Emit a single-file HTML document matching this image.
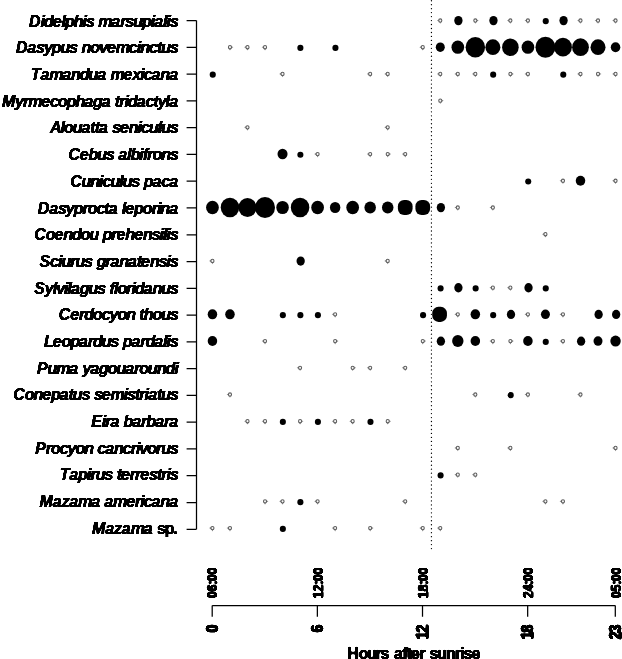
<!DOCTYPE html>
<html lang="en"><head><meta charset="utf-8"><title>Activity by hours after sunrise</title>
<style>
html,body{margin:0;padding:0;background:#fff;}
body{width:622px;height:659px;overflow:hidden;}
svg{display:block;}
text{font-family:"Liberation Sans",sans-serif;font-weight:bold;fill:#000;stroke:#000;stroke-width:0.35px;}
.sp{font-style:italic;font-size:16.20px;stroke-width:0.15px;}
.sp tspan{font-style:normal;}
.tk{font-size:16.40px;stroke-width:0.85px;}
.hr{font-size:14.80px;stroke-width:0.7px;}
.ttl{font-size:16.00px;}
.ax{stroke:#000;stroke-width:1.25;fill:none;}
.dot{stroke:#000;stroke-width:1.35;stroke-dasharray:0.01 3.96;stroke-linecap:round;fill:none;}
.f{fill:#000;}
.s{fill:#f6f6f6;stroke:#5c5c5c;stroke-width:1.05;}
.t{fill:#888;}
</style></head><body>
<svg width="622" height="659" viewBox="0 0 622 659">
<rect width="622" height="659" fill="#fff"/>
<defs>
<filter id="hh" x="0" y="0" width="622" height="659" filterUnits="userSpaceOnUse" color-interpolation-filters="sRGB"><feConvolveMatrix order="3 1" kernelMatrix="0.30 1 0.30" divisor="1" edgeMode="none" preserveAlpha="false"/><feComponentTransfer><feFuncA type="linear" slope="3.00" intercept="-1.00"/></feComponentTransfer></filter>
<filter id="hv" x="0" y="0" width="622" height="659" filterUnits="userSpaceOnUse" color-interpolation-filters="sRGB"><feConvolveMatrix order="1 3" kernelMatrix="0.30 1 0.30" divisor="1" edgeMode="none" preserveAlpha="false"/><feComponentTransfer><feFuncA type="linear" slope="3.00" intercept="-1.00"/></feComponentTransfer></filter>
</defs>
<line class="dot" x1="431.45" y1="0.7" x2="431.45" y2="549.5"/>
<path class="ax" d="M196.50 20.55V529.29"/>
<path class="ax" d="M186.60 20.55H196.50M186.60 47.33H196.50M186.60 74.10H196.50M186.60 100.88H196.50M186.60 127.65H196.50M186.60 154.43H196.50M186.60 181.21H196.50M186.60 207.98H196.50M186.60 234.76H196.50M186.60 261.53H196.50M186.60 288.31H196.50M186.60 315.09H196.50M186.60 341.86H196.50M186.60 368.64H196.50M186.60 395.41H196.50M186.60 422.19H196.50M186.60 448.97H196.50M186.60 475.74H196.50M186.60 502.52H196.50M186.60 529.29H196.50"/>
<path class="ax" d="M212.20 605.50H615.30"/>
<path class="ax" d="M212.20 605.50V616.70M317.36 605.50V616.70M422.51 605.50V616.70M527.67 605.50V616.70M615.30 605.50V616.70"/>
<path class="t" d="M436.89 20.50l2.00 -1.1v2.2zM440.29 23.80l-0.9 -1.6h1.8z"/>
<ellipse class="s" cx="440.29" cy="20.50" rx="1.55" ry="1.65"/>
<ellipse class="f" cx="458.41" cy="20.60" rx="4.15" ry="4.65"/>
<path class="t" d="M478.74 20.50l-2.00 -1.1v2.2zM475.34 23.80l-0.9 -1.6h1.8z"/>
<ellipse class="s" cx="475.34" cy="20.50" rx="1.55" ry="1.65"/>
<ellipse class="f" cx="493.47" cy="20.60" rx="4.15" ry="4.65"/>
<path class="t" d="M506.99 20.50l2.00 -1.1v2.2zM510.39 23.80l-0.9 -1.6h1.8z"/>
<ellipse class="s" cx="510.39" cy="20.50" rx="1.55" ry="1.65"/>
<path class="t" d="M524.52 20.50l2.00 -1.1v2.2zM527.92 23.80l-0.9 -1.6h1.8z"/>
<ellipse class="s" cx="527.92" cy="20.50" rx="1.55" ry="1.65"/>
<rect class="f" x="542.69" y="18.10" width="6.10" height="6.20" rx="3.0"/>
<ellipse class="f" cx="563.57" cy="20.60" rx="4.15" ry="4.65"/>
<path class="t" d="M577.10 20.50l2.00 -1.1v2.2zM580.50 23.80l-0.9 -1.6h1.8z"/>
<ellipse class="s" cx="580.50" cy="20.50" rx="1.55" ry="1.65"/>
<path class="t" d="M594.62 20.50l2.00 -1.1v2.2zM598.02 23.80l-0.9 -1.6h1.8z"/>
<ellipse class="s" cx="598.02" cy="20.50" rx="1.55" ry="1.65"/>
<path class="t" d="M612.15 20.50l2.00 -1.1v2.2zM615.55 23.80l-0.9 -1.6h1.8z"/>
<ellipse class="s" cx="615.55" cy="20.50" rx="1.55" ry="1.65"/>
<path class="t" d="M233.38 47.22l-2.00 -1.1v2.2zM229.98 50.52l-0.9 -1.6h1.8z"/>
<ellipse class="s" cx="229.98" cy="47.22" rx="1.55" ry="1.65"/>
<path class="t" d="M244.10 47.22l2.00 -1.1v2.2zM247.50 50.52l-0.9 -1.6h1.8z"/>
<ellipse class="s" cx="247.50" cy="47.22" rx="1.55" ry="1.65"/>
<path class="t" d="M261.63 47.22l2.00 -1.1v2.2zM265.03 50.52l-0.9 -1.6h1.8z"/>
<ellipse class="s" cx="265.03" cy="47.22" rx="1.55" ry="1.65"/>
<rect class="f" x="297.33" y="44.82" width="6.10" height="6.20" rx="3.0"/>
<rect class="f" x="332.38" y="44.82" width="6.10" height="6.20" rx="3.0"/>
<path class="t" d="M419.36 47.22l2.00 -1.1v2.2zM422.76 50.52l-0.9 -1.6h1.8z"/>
<ellipse class="s" cx="422.76" cy="47.22" rx="1.55" ry="1.65"/>
<ellipse class="f" cx="440.29" cy="47.22" rx="4.51" ry="4.75"/>
<ellipse class="f" cx="457.81" cy="47.22" rx="6.32" ry="6.65"/>
<ellipse class="f" cx="475.34" cy="47.22" rx="9.74" ry="10.25"/>
<ellipse class="f" cx="492.87" cy="47.22" rx="7.50" ry="7.90"/>
<ellipse class="f" cx="510.39" cy="47.22" rx="8.31" ry="8.75"/>
<ellipse class="f" cx="527.92" cy="47.22" rx="6.32" ry="6.65"/>
<ellipse class="f" cx="545.44" cy="47.22" rx="9.97" ry="10.50"/>
<ellipse class="f" cx="562.97" cy="47.22" rx="8.93" ry="9.40"/>
<ellipse class="f" cx="580.50" cy="47.22" rx="8.41" ry="8.85"/>
<ellipse class="f" cx="598.02" cy="47.22" rx="7.50" ry="7.90"/>
<ellipse class="f" cx="615.55" cy="47.22" rx="4.75" ry="5.00"/>
<rect class="f" x="209.70" y="71.53" width="6.10" height="6.20" rx="3.0"/>
<path class="t" d="M279.15 73.93l2.00 -1.1v2.2zM282.55 77.23l-0.9 -1.6h1.8z"/>
<ellipse class="s" cx="282.55" cy="73.93" rx="1.55" ry="1.65"/>
<path class="t" d="M366.78 73.93l2.00 -1.1v2.2zM370.18 77.23l-0.9 -1.6h1.8z"/>
<ellipse class="s" cx="370.18" cy="73.93" rx="1.55" ry="1.65"/>
<path class="t" d="M384.31 73.93l2.00 -1.1v2.2zM387.71 77.23l-0.9 -1.6h1.8z"/>
<ellipse class="s" cx="387.71" cy="73.93" rx="1.55" ry="1.65"/>
<path class="t" d="M436.89 73.93l2.00 -1.1v2.2zM440.29 77.23l-0.9 -1.6h1.8z"/>
<ellipse class="s" cx="440.29" cy="73.93" rx="1.55" ry="1.65"/>
<path class="t" d="M454.41 73.93l2.00 -1.1v2.2zM457.81 77.23l-0.9 -1.6h1.8z"/>
<ellipse class="s" cx="457.81" cy="73.93" rx="1.55" ry="1.65"/>
<path class="t" d="M471.94 73.93l2.00 -1.1v2.2zM475.34 77.23l-0.9 -1.6h1.8z"/>
<ellipse class="s" cx="475.34" cy="73.93" rx="1.55" ry="1.65"/>
<rect class="f" x="490.12" y="71.53" width="6.10" height="6.20" rx="3.0"/>
<path class="t" d="M513.79 73.93l-2.00 -1.1v2.2zM510.39 77.23l-0.9 -1.6h1.8z"/>
<ellipse class="s" cx="510.39" cy="73.93" rx="1.55" ry="1.65"/>
<path class="t" d="M524.52 73.93l2.00 -1.1v2.2zM527.92 77.23l-0.9 -1.6h1.8z"/>
<ellipse class="s" cx="527.92" cy="73.93" rx="1.55" ry="1.65"/>
<rect class="f" x="560.22" y="71.53" width="6.10" height="6.20" rx="3.0"/>
<path class="t" d="M577.10 73.93l2.00 -1.1v2.2zM580.50 77.23l-0.9 -1.6h1.8z"/>
<ellipse class="s" cx="580.50" cy="73.93" rx="1.55" ry="1.65"/>
<path class="t" d="M601.42 73.93l-2.00 -1.1v2.2zM598.02 77.23l-0.9 -1.6h1.8z"/>
<ellipse class="s" cx="598.02" cy="73.93" rx="1.55" ry="1.65"/>
<path class="t" d="M612.15 73.93l2.00 -1.1v2.2zM615.55 77.23l-0.9 -1.6h1.8z"/>
<ellipse class="s" cx="615.55" cy="73.93" rx="1.55" ry="1.65"/>
<path class="t" d="M443.69 100.64l-2.00 -1.1v2.2zM440.29 103.94l-0.9 -1.6h1.8z"/>
<ellipse class="s" cx="440.29" cy="100.64" rx="1.55" ry="1.65"/>
<path class="t" d="M244.10 127.36l2.00 -1.1v2.2zM247.50 130.66l-0.9 -1.6h1.8z"/>
<ellipse class="s" cx="247.50" cy="127.36" rx="1.55" ry="1.65"/>
<path class="t" d="M384.31 127.36l2.00 -1.1v2.2zM387.71 130.66l-0.9 -1.6h1.8z"/>
<ellipse class="s" cx="387.71" cy="127.36" rx="1.55" ry="1.65"/>
<ellipse class="f" cx="282.55" cy="154.07" rx="5.03" ry="5.30"/>
<rect class="f" x="297.33" y="151.67" width="6.10" height="6.20" rx="3.0"/>
<path class="t" d="M314.21 154.07l2.00 -1.1v2.2zM317.61 157.38l-0.9 -1.6h1.8z"/>
<ellipse class="s" cx="317.61" cy="154.07" rx="1.55" ry="1.65"/>
<path class="t" d="M366.78 154.07l2.00 -1.1v2.2zM370.18 157.38l-0.9 -1.6h1.8z"/>
<ellipse class="s" cx="370.18" cy="154.07" rx="1.55" ry="1.65"/>
<path class="t" d="M391.11 154.07l-2.00 -1.1v2.2zM387.71 157.38l-0.9 -1.6h1.8z"/>
<ellipse class="s" cx="387.71" cy="154.07" rx="1.55" ry="1.65"/>
<path class="t" d="M401.84 154.07l2.00 -1.1v2.2zM405.24 157.38l-0.9 -1.6h1.8z"/>
<ellipse class="s" cx="405.24" cy="154.07" rx="1.55" ry="1.65"/>
<rect class="f" x="525.17" y="178.39" width="6.10" height="6.20" rx="3.0"/>
<path class="t" d="M559.57 180.79l2.00 -1.1v2.2zM562.97 184.09l-0.9 -1.6h1.8z"/>
<ellipse class="s" cx="562.97" cy="180.79" rx="1.55" ry="1.65"/>
<ellipse class="f" cx="580.50" cy="180.79" rx="4.75" ry="5.00"/>
<path class="t" d="M612.15 180.79l2.00 -1.1v2.2zM615.55 184.09l-0.9 -1.6h1.8z"/>
<ellipse class="s" cx="615.55" cy="180.79" rx="1.55" ry="1.65"/>
<ellipse class="f" cx="212.45" cy="207.50" rx="6.37" ry="6.70"/>
<ellipse class="f" cx="229.98" cy="207.50" rx="9.26" ry="9.75"/>
<ellipse class="f" cx="247.50" cy="207.50" rx="9.03" ry="9.50"/>
<ellipse class="f" cx="265.03" cy="207.50" rx="9.97" ry="10.50"/>
<ellipse class="f" cx="282.55" cy="207.50" rx="6.27" ry="6.60"/>
<ellipse class="f" cx="300.08" cy="207.50" rx="9.26" ry="9.75"/>
<ellipse class="f" cx="317.61" cy="207.50" rx="6.37" ry="6.70"/>
<ellipse class="f" cx="335.13" cy="207.50" rx="5.22" ry="5.50"/>
<ellipse class="f" cx="352.66" cy="207.50" rx="6.37" ry="6.70"/>
<ellipse class="f" cx="370.18" cy="207.50" rx="5.75" ry="6.05"/>
<ellipse class="f" cx="387.71" cy="207.50" rx="5.75" ry="6.05"/>
<rect class="f" x="397.89" y="199.95" width="14.70" height="15.10" rx="6.2"/>
<rect class="f" x="415.41" y="199.95" width="14.70" height="15.10" rx="6.2"/>
<ellipse class="f" cx="440.89" cy="207.60" rx="4.15" ry="4.65"/>
<path class="t" d="M454.41 207.50l2.00 -1.1v2.2zM457.81 210.81l-0.9 -1.6h1.8z"/>
<ellipse class="s" cx="457.81" cy="207.50" rx="1.55" ry="1.65"/>
<path class="t" d="M489.47 207.50l2.00 -1.1v2.2zM492.87 210.81l-0.9 -1.6h1.8z"/>
<ellipse class="s" cx="492.87" cy="207.50" rx="1.55" ry="1.65"/>
<path class="t" d="M542.04 234.22l2.00 -1.1v2.2zM545.44 237.52l-0.9 -1.6h1.8z"/>
<ellipse class="s" cx="545.44" cy="234.22" rx="1.55" ry="1.65"/>
<path class="t" d="M209.05 260.94l2.00 -1.1v2.2zM212.45 264.24l-0.9 -1.6h1.8z"/>
<ellipse class="s" cx="212.45" cy="260.94" rx="1.55" ry="1.65"/>
<ellipse class="f" cx="300.68" cy="261.04" rx="4.15" ry="4.65"/>
<path class="t" d="M384.31 260.94l2.00 -1.1v2.2zM387.71 264.24l-0.9 -1.6h1.8z"/>
<ellipse class="s" cx="387.71" cy="260.94" rx="1.55" ry="1.65"/>
<rect class="f" x="437.54" y="285.25" width="6.10" height="6.20" rx="3.0"/>
<ellipse class="f" cx="458.41" cy="287.75" rx="4.15" ry="4.65"/>
<rect class="f" x="472.59" y="285.25" width="6.10" height="6.20" rx="3.0"/>
<path class="t" d="M489.47 287.65l2.00 -1.1v2.2zM492.87 290.95l-0.9 -1.6h1.8z"/>
<ellipse class="s" cx="492.87" cy="287.65" rx="1.55" ry="1.65"/>
<path class="t" d="M506.99 287.65l2.00 -1.1v2.2zM510.39 290.95l-0.9 -1.6h1.8z"/>
<ellipse class="s" cx="510.39" cy="287.65" rx="1.55" ry="1.65"/>
<ellipse class="f" cx="528.52" cy="287.75" rx="4.15" ry="4.65"/>
<rect class="f" x="542.69" y="285.25" width="6.10" height="6.20" rx="3.0"/>
<ellipse class="f" cx="212.45" cy="314.37" rx="4.75" ry="5.00"/>
<ellipse class="f" cx="229.98" cy="314.37" rx="4.75" ry="5.00"/>
<rect class="f" x="279.80" y="311.96" width="6.10" height="6.20" rx="3.0"/>
<rect class="f" x="297.33" y="311.96" width="6.10" height="6.20" rx="3.0"/>
<rect class="f" x="314.86" y="311.96" width="6.10" height="6.20" rx="3.0"/>
<path class="t" d="M331.73 314.37l2.00 -1.1v2.2zM335.13 317.67l-0.9 -1.6h1.8z"/>
<ellipse class="s" cx="335.13" cy="314.37" rx="1.55" ry="1.65"/>
<rect class="f" x="420.01" y="311.96" width="6.10" height="6.20" rx="3.0"/>
<rect class="f" x="432.24" y="306.81" width="14.70" height="15.10" rx="6.2"/>
<path class="t" d="M454.41 314.37l2.00 -1.1v2.2zM457.81 317.67l-0.9 -1.6h1.8z"/>
<ellipse class="s" cx="457.81" cy="314.37" rx="1.55" ry="1.65"/>
<ellipse class="f" cx="475.34" cy="314.37" rx="4.75" ry="5.00"/>
<rect class="f" x="490.12" y="311.96" width="6.10" height="6.20" rx="3.0"/>
<ellipse class="f" cx="510.99" cy="314.47" rx="4.15" ry="4.65"/>
<path class="t" d="M524.52 314.37l2.00 -1.1v2.2zM527.92 317.67l-0.9 -1.6h1.8z"/>
<ellipse class="s" cx="527.92" cy="314.37" rx="1.55" ry="1.65"/>
<ellipse class="f" cx="545.44" cy="314.37" rx="4.51" ry="4.75"/>
<path class="t" d="M559.57 314.37l2.00 -1.1v2.2zM562.97 317.67l-0.9 -1.6h1.8z"/>
<ellipse class="s" cx="562.97" cy="314.37" rx="1.55" ry="1.65"/>
<ellipse class="f" cx="598.62" cy="314.47" rx="4.15" ry="4.65"/>
<ellipse class="f" cx="616.15" cy="314.47" rx="4.15" ry="4.65"/>
<ellipse class="f" cx="212.45" cy="341.08" rx="4.75" ry="5.00"/>
<path class="t" d="M261.63 341.08l2.00 -1.1v2.2zM265.03 344.38l-0.9 -1.6h1.8z"/>
<ellipse class="s" cx="265.03" cy="341.08" rx="1.55" ry="1.65"/>
<path class="t" d="M338.53 341.08l-2.00 -1.1v2.2zM335.13 344.38l-0.9 -1.6h1.8z"/>
<ellipse class="s" cx="335.13" cy="341.08" rx="1.55" ry="1.65"/>
<path class="t" d="M426.16 341.08l-2.00 -1.1v2.2zM422.76 344.38l-0.9 -1.6h1.8z"/>
<ellipse class="s" cx="422.76" cy="341.08" rx="1.55" ry="1.65"/>
<ellipse class="f" cx="440.89" cy="341.18" rx="4.15" ry="4.65"/>
<ellipse class="f" cx="457.81" cy="341.08" rx="5.70" ry="6.00"/>
<ellipse class="f" cx="475.34" cy="341.08" rx="4.75" ry="5.00"/>
<path class="t" d="M489.47 341.08l2.00 -1.1v2.2zM492.87 344.38l-0.9 -1.6h1.8z"/>
<ellipse class="s" cx="492.87" cy="341.08" rx="1.55" ry="1.65"/>
<path class="t" d="M513.79 341.08l-2.00 -1.1v2.2zM510.39 344.38l-0.9 -1.6h1.8z"/>
<ellipse class="s" cx="510.39" cy="341.08" rx="1.55" ry="1.65"/>
<ellipse class="f" cx="527.92" cy="341.08" rx="4.75" ry="5.00"/>
<rect class="f" x="542.69" y="338.68" width="6.10" height="6.20" rx="3.0"/>
<path class="t" d="M559.57 341.08l2.00 -1.1v2.2zM562.97 344.38l-0.9 -1.6h1.8z"/>
<ellipse class="s" cx="562.97" cy="341.08" rx="1.55" ry="1.65"/>
<ellipse class="f" cx="581.10" cy="341.18" rx="4.15" ry="4.65"/>
<ellipse class="f" cx="598.02" cy="341.08" rx="4.51" ry="4.75"/>
<ellipse class="f" cx="615.55" cy="341.08" rx="5.22" ry="5.50"/>
<path class="t" d="M296.68 367.80l2.00 -1.1v2.2zM300.08 371.10l-0.9 -1.6h1.8z"/>
<ellipse class="s" cx="300.08" cy="367.80" rx="1.55" ry="1.65"/>
<path class="t" d="M356.06 367.80l-2.00 -1.1v2.2zM352.66 371.10l-0.9 -1.6h1.8z"/>
<ellipse class="s" cx="352.66" cy="367.80" rx="1.55" ry="1.65"/>
<path class="t" d="M366.78 367.80l2.00 -1.1v2.2zM370.18 371.10l-0.9 -1.6h1.8z"/>
<ellipse class="s" cx="370.18" cy="367.80" rx="1.55" ry="1.65"/>
<path class="t" d="M401.84 367.80l2.00 -1.1v2.2zM405.24 371.10l-0.9 -1.6h1.8z"/>
<ellipse class="s" cx="405.24" cy="367.80" rx="1.55" ry="1.65"/>
<path class="t" d="M226.58 394.51l2.00 -1.1v2.2zM229.98 397.81l-0.9 -1.6h1.8z"/>
<ellipse class="s" cx="229.98" cy="394.51" rx="1.55" ry="1.65"/>
<path class="t" d="M471.94 394.51l2.00 -1.1v2.2zM475.34 397.81l-0.9 -1.6h1.8z"/>
<ellipse class="s" cx="475.34" cy="394.51" rx="1.55" ry="1.65"/>
<rect class="f" x="507.64" y="392.11" width="6.10" height="6.20" rx="3.0"/>
<path class="t" d="M524.52 394.51l2.00 -1.1v2.2zM527.92 397.81l-0.9 -1.6h1.8z"/>
<ellipse class="s" cx="527.92" cy="394.51" rx="1.55" ry="1.65"/>
<path class="t" d="M577.10 394.51l2.00 -1.1v2.2zM580.50 397.81l-0.9 -1.6h1.8z"/>
<ellipse class="s" cx="580.50" cy="394.51" rx="1.55" ry="1.65"/>
<path class="t" d="M244.10 421.23l2.00 -1.1v2.2zM247.50 424.53l-0.9 -1.6h1.8z"/>
<ellipse class="s" cx="247.50" cy="421.23" rx="1.55" ry="1.65"/>
<path class="t" d="M261.63 421.23l2.00 -1.1v2.2zM265.03 424.53l-0.9 -1.6h1.8z"/>
<ellipse class="s" cx="265.03" cy="421.23" rx="1.55" ry="1.65"/>
<rect class="f" x="279.80" y="418.82" width="6.10" height="6.20" rx="3.0"/>
<path class="t" d="M303.48 421.23l-2.00 -1.1v2.2zM300.08 424.53l-0.9 -1.6h1.8z"/>
<ellipse class="s" cx="300.08" cy="421.23" rx="1.55" ry="1.65"/>
<rect class="f" x="314.86" y="418.82" width="6.10" height="6.20" rx="3.0"/>
<path class="t" d="M331.73 421.23l2.00 -1.1v2.2zM335.13 424.53l-0.9 -1.6h1.8z"/>
<ellipse class="s" cx="335.13" cy="421.23" rx="1.55" ry="1.65"/>
<path class="t" d="M349.26 421.23l2.00 -1.1v2.2zM352.66 424.53l-0.9 -1.6h1.8z"/>
<ellipse class="s" cx="352.66" cy="421.23" rx="1.55" ry="1.65"/>
<rect class="f" x="367.43" y="418.82" width="6.10" height="6.20" rx="3.0"/>
<path class="t" d="M391.11 421.23l-2.00 -1.1v2.2zM387.71 424.53l-0.9 -1.6h1.8z"/>
<ellipse class="s" cx="387.71" cy="421.23" rx="1.55" ry="1.65"/>
<path class="t" d="M454.41 447.94l2.00 -1.1v2.2zM457.81 451.24l-0.9 -1.6h1.8z"/>
<ellipse class="s" cx="457.81" cy="447.94" rx="1.55" ry="1.65"/>
<path class="t" d="M506.99 447.94l2.00 -1.1v2.2zM510.39 451.24l-0.9 -1.6h1.8z"/>
<ellipse class="s" cx="510.39" cy="447.94" rx="1.55" ry="1.65"/>
<path class="t" d="M612.15 447.94l2.00 -1.1v2.2zM615.55 451.24l-0.9 -1.6h1.8z"/>
<ellipse class="s" cx="615.55" cy="447.94" rx="1.55" ry="1.65"/>
<rect class="f" x="437.54" y="472.25" width="6.10" height="6.20" rx="3.0"/>
<path class="t" d="M454.41 474.65l2.00 -1.1v2.2zM457.81 477.95l-0.9 -1.6h1.8z"/>
<ellipse class="s" cx="457.81" cy="474.65" rx="1.55" ry="1.65"/>
<path class="t" d="M471.94 474.65l2.00 -1.1v2.2zM475.34 477.95l-0.9 -1.6h1.8z"/>
<ellipse class="s" cx="475.34" cy="474.65" rx="1.55" ry="1.65"/>
<path class="t" d="M268.43 501.37l-2.00 -1.1v2.2zM265.03 504.67l-0.9 -1.6h1.8z"/>
<ellipse class="s" cx="265.03" cy="501.37" rx="1.55" ry="1.65"/>
<path class="t" d="M279.15 501.37l2.00 -1.1v2.2zM282.55 504.67l-0.9 -1.6h1.8z"/>
<ellipse class="s" cx="282.55" cy="501.37" rx="1.55" ry="1.65"/>
<rect class="f" x="297.33" y="498.97" width="6.10" height="6.20" rx="3.0"/>
<path class="t" d="M314.21 501.37l2.00 -1.1v2.2zM317.61 504.67l-0.9 -1.6h1.8z"/>
<ellipse class="s" cx="317.61" cy="501.37" rx="1.55" ry="1.65"/>
<path class="t" d="M401.84 501.37l2.00 -1.1v2.2zM405.24 504.67l-0.9 -1.6h1.8z"/>
<ellipse class="s" cx="405.24" cy="501.37" rx="1.55" ry="1.65"/>
<path class="t" d="M542.04 501.37l2.00 -1.1v2.2zM545.44 504.67l-0.9 -1.6h1.8z"/>
<ellipse class="s" cx="545.44" cy="501.37" rx="1.55" ry="1.65"/>
<path class="t" d="M559.57 501.37l2.00 -1.1v2.2zM562.97 504.67l-0.9 -1.6h1.8z"/>
<ellipse class="s" cx="562.97" cy="501.37" rx="1.55" ry="1.65"/>
<path class="t" d="M209.05 528.09l2.00 -1.1v2.2zM212.45 531.38l-0.9 -1.6h1.8z"/>
<ellipse class="s" cx="212.45" cy="528.09" rx="1.55" ry="1.65"/>
<path class="t" d="M226.58 528.09l2.00 -1.1v2.2zM229.98 531.38l-0.9 -1.6h1.8z"/>
<ellipse class="s" cx="229.98" cy="528.09" rx="1.55" ry="1.65"/>
<rect class="f" x="279.80" y="525.69" width="6.10" height="6.20" rx="3.0"/>
<path class="t" d="M331.73 528.09l2.00 -1.1v2.2zM335.13 531.38l-0.9 -1.6h1.8z"/>
<ellipse class="s" cx="335.13" cy="528.09" rx="1.55" ry="1.65"/>
<path class="t" d="M373.58 528.09l-2.00 -1.1v2.2zM370.18 531.38l-0.9 -1.6h1.8z"/>
<ellipse class="s" cx="370.18" cy="528.09" rx="1.55" ry="1.65"/>
<path class="t" d="M419.36 528.09l2.00 -1.1v2.2zM422.76 531.38l-0.9 -1.6h1.8z"/>
<ellipse class="s" cx="422.76" cy="528.09" rx="1.55" ry="1.65"/>
<path class="t" d="M436.89 528.09l2.00 -1.1v2.2zM440.29 531.38l-0.9 -1.6h1.8z"/>
<ellipse class="s" cx="440.29" cy="528.09" rx="1.55" ry="1.65"/>
<g filter="url(#hh)">
<text class="sp" transform="translate(0 26.70) scale(0.985 1)" x="29.53 41.08 44.63 53.53 62.42 65.97 74.86 83.76 87.31 95.30 99.75 113.07 121.96 127.28 135.28 144.17 153.06 156.62 165.51 169.06 172.61">Didelphis marsupialis</text>
<text class="sp" transform="translate(0 53.39) scale(0.985 1)" x="16.20 27.75 36.64 44.63 52.63 61.52 70.41 78.41 82.85 91.74 100.64 108.63 117.52 130.84 138.84 142.39 151.28 159.28 163.72 172.61">Dasypus novemcinctus</text>
<text class="sp" transform="translate(0 80.08) scale(0.985 1)" x="31.29 41.06 49.95 63.27 72.16 81.06 89.95 98.84 107.73 112.18 125.50 134.39 142.38 145.94 153.93 162.82 171.72">Tamandua mexicana</text>
<text class="sp" transform="translate(0 106.77) scale(0.985 1)" x="1.98 15.30 23.29 28.62 41.94 50.83 58.83 67.72 76.61 85.51 94.40 103.29 112.18 116.63 121.07 126.39 129.95 138.84 147.73 155.73 160.17 168.16 171.72">Myrmecophaga tridactyla</text>
<text class="sp" transform="translate(0 133.46) scale(0.985 1)" x="50.83 61.50 65.05 73.94 82.84 91.73 96.17 100.61 109.51 113.95 121.94 130.84 139.73 143.28 151.28 160.17 163.72 172.61">Alouatta seniculus</text>
<text class="sp" transform="translate(0 160.15) scale(0.985 1)" x="69.51 81.06 89.95 98.84 107.73 115.73 120.17 129.06 132.62 141.51 145.06 149.50 154.83 163.72 172.61">Cebus albifrons</text>
<text class="sp" transform="translate(0 186.84) scale(0.985 1)" x="71.28 82.83 91.72 100.61 104.17 112.16 121.05 124.61 133.50 141.49 145.94 154.83 163.72 171.72">Cuniculus paca</text>
<text class="sp" transform="translate(0 213.53) scale(0.985 1)" x="38.40 49.95 58.84 66.84 74.83 83.73 89.05 97.94 105.94 110.38 119.27 123.72 127.27 136.16 145.05 153.95 159.27 162.82 171.72">Dasyprocta leporina</text>
<text class="sp" transform="translate(0 240.22) scale(0.985 1)" x="34.83 46.37 55.27 64.16 73.05 81.95 90.84 99.73 104.17 113.07 118.39 127.28 136.18 145.07 153.96 161.96 165.51 169.06 172.61">Coendou prehensilis</text>
<text class="sp" transform="translate(0 266.91) scale(0.985 1)" x="40.18 50.85 58.84 62.40 71.29 76.61 85.51 93.50 97.94 106.84 112.16 121.05 129.95 138.84 143.28 152.17 161.07 169.06 172.61">Sciurus granatensis</text>
<text class="sp" transform="translate(0 293.60) scale(0.985 1)" x="34.85 45.52 53.51 57.06 65.06 68.61 72.16 81.06 89.95 98.84 106.84 111.28 115.72 119.27 128.17 133.49 137.04 145.94 154.83 163.72 172.61">Sylvilagus floridanus</text>
<text class="sp" transform="translate(0 320.29) scale(0.985 1)" x="59.72 71.27 80.17 85.49 94.38 103.28 111.27 119.27 128.16 137.05 141.49 145.94 154.83 163.72 172.61">Cerdocyon thous</text>
<text class="sp" transform="translate(0 346.98) scale(0.985 1)" x="44.60 53.49 62.39 71.28 80.17 89.07 94.39 103.28 112.18 120.17 124.61 133.51 142.40 147.72 156.62 165.51 169.06 172.61">Leopardus pardalis</text>
<text class="sp" transform="translate(0 373.67) scale(0.985 1)" x="37.49 48.15 57.05 70.37 79.26 83.70 91.70 100.59 109.48 118.38 127.27 136.16 141.49 150.38 159.27 168.16 177.06">Puma yagouaroundi</text>
<text class="sp" transform="translate(0 400.36) scale(0.985 1)" x="13.53 25.08 33.97 42.86 51.75 60.65 69.54 73.98 82.87 90.87 95.31 103.31 112.20 125.52 129.07 137.07 141.51 146.83 150.39 159.28 163.72 172.61">Conepatus semistriatus</text>
<text class="sp" transform="translate(0 427.05) scale(0.985 1)" x="92.62 103.28 106.84 112.16 121.05 125.50 134.39 143.28 148.61 157.50 166.39 171.72">Eira barbara</text>
<text class="sp" transform="translate(0 453.74) scale(0.985 1)" x="35.76 46.42 51.75 60.64 68.63 76.63 85.52 94.41 98.86 106.85 115.74 124.64 132.63 137.96 141.51 149.50 158.40 163.72 172.61">Procyon cancrivorus</text>
<text class="sp" transform="translate(0 480.43) scale(0.985 1)" x="60.66 70.43 79.32 88.21 91.77 97.09 105.98 113.98 118.42 122.86 131.76 137.08 142.41 151.30 159.29 163.74 169.06 172.61">Tapirus terrestris</text>
<text class="sp" transform="translate(0 507.12) scale(0.985 1)" x="40.20 53.52 62.41 70.41 79.30 92.62 101.51 105.95 114.85 128.17 137.06 142.38 145.94 153.93 162.82 171.72">Mazama americana</text>
<text class="sp" transform="translate(0 533.81) scale(0.985 1)"><tspan style="font-style:italic" x="93.52 106.84 115.74 123.73 132.62 145.94 154.84">Mazama </tspan><tspan x="159.28 167.27 176.17">sp.</tspan></text>
</g>
<g filter="url(#hv)">
<text class="tk" transform="translate(212.20 625.60) rotate(-90) scale(0.865 1)" x="-7.84" y="5.50">0</text>
<text class="hr" transform="translate(212.20 598.10) rotate(-90) scale(0.795 1)" x="0.00 8.60 17.21 21.51 30.11" y="5.25">06:00</text>
<text class="tk" transform="translate(317.36 625.60) rotate(-90) scale(0.865 1)" x="-7.84" y="5.50">6</text>
<text class="hr" transform="translate(317.36 598.10) rotate(-90) scale(0.795 1)" x="0.00 8.60 17.21 21.51 30.11" y="5.25">12:00</text>
<text class="tk" transform="translate(422.51 625.60) rotate(-90) scale(0.865 1)" x="-15.69 -7.84" y="5.50">12</text>
<text class="hr" transform="translate(422.51 598.10) rotate(-90) scale(0.795 1)" x="0.00 8.60 17.21 21.51 30.11" y="5.25">18:00</text>
<text class="tk" transform="translate(527.67 625.60) rotate(-90) scale(0.865 1)" x="-15.69 -7.84" y="5.50">18</text>
<text class="hr" transform="translate(527.67 598.10) rotate(-90) scale(0.795 1)" x="0.00 8.60 17.21 21.51 30.11" y="5.25">24:00</text>
<text class="tk" transform="translate(615.30 625.60) rotate(-90) scale(0.865 1)" x="-15.69 -7.84" y="5.50">23</text>
<text class="hr" transform="translate(615.30 598.10) rotate(-90) scale(0.795 1)" x="0.00 8.60 17.21 21.51 30.11" y="5.25">05:00</text>
</g>
<g filter="url(#hh)">
<text class="ttl" transform="translate(0 659.30) scale(0.970 1)" x="358.35 369.74 378.51 387.29 392.54 400.43 406.08 414.85 419.24 423.62 432.39 437.64 442.68 450.85 459.94 469.03 474.47 478.10 486.27">Hours after sunrise</text>
</g>
</svg>
</body></html>
